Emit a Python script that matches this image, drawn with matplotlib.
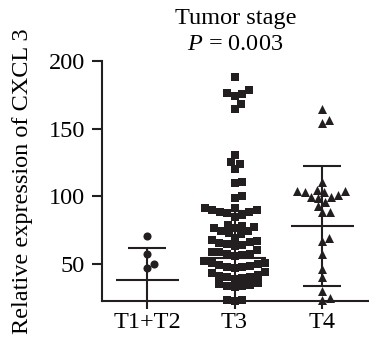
import numpy as np
import matplotlib
matplotlib.use("Agg")
import matplotlib.pyplot as plt

plt.rcParams['font.family'] = ['Liberation Serif', 'DejaVu Serif']
plt.rcParams['mathtext.fontset'] = 'custom'
plt.rcParams['mathtext.rm'] = 'Liberation Serif'
plt.rcParams['mathtext.it'] = 'Liberation Serif:italic'

# data
groups = ["T1+T2", "T3", "T4"]
vals_t12 = [70.5, 57.2, 46.9, 49.8]
vals_t3 = [188.4, 178.6, 176.6, 175.4, 174.4, 168, 164.5, 130.6, 125.2, 123.9, 120,
           110.9, 110.1, 100.3, 99,
           91.2, 91.2, 89.8, 89.8, 88.6, 88.6, 87.5, 86.3, 85,
           79, 78.2, 77.5, 76.4, 76.4, 74, 74, 72.8, 72.5,
           69, 68, 67, 66, 65.5, 64.6, 64, 63,
           60, 59, 58.5, 57.5, 57, 56.5, 56,
           52, 51, 50.5, 50, 49, 48.5, 48, 47.5, 47,
           44, 43, 42, 41, 40.5, 40, 39.5, 39,
           36, 35, 34.5, 34, 33.5, 33,
           23, 22.8, 23]
vals_t4 = [164.6, 156.4, 154.4, 110.9, 105, 104.2, 104.2, 103.5, 103, 101, 99.8, 99.3, 99,
           95.6, 93.1, 88.3, 88.3, 69.5, 66.6, 57.2, 46.2, 40, 30.1, 24.5, 23]
centers = [37.8, 54.7, 78.1]
upper = [62.0, 89.2, 122.7]
lower = [13.6, 20.2, 33.8]
markers = ['o', 's', '^']

fig = plt.figure(figsize=(3.69, 3.47), dpi=100)
ax = fig.add_axes([0.2756, 0.1326, 0.7244, 0.6914])
ax.set_xlim(0.482, 3.537)
ax.set_ylim(22.6, 200)

# pixels per data unit, used to spread points like a swarm
xs = 87.5
ys = 67.6 / 50
d = 7.8


def swarm(vals):
    placed = []
    out = {}
    for i in np.argsort(vals):
        y = vals[i] * ys
        cands = [0.0]
        for px, py in placed:
            dy = y - py
            if abs(dy) < d:
                dx = np.sqrt(d ** 2 - dy ** 2)
                cands += [px + dx, px - dx]
        ok = [c for c in cands
              if all((c - px) ** 2 + (y - py) ** 2 >= d ** 2 - 1e-6 for px, py in placed)]
        best = min(ok, key=abs)
        placed.append((best, y))
        out[i] = best / xs
    return [out[i] for i in range(len(vals))]


for k, vals in enumerate([vals_t12, vals_t3, vals_t4]):
    offs = swarm(vals)
    ax.scatter([k + 1 + o for o in offs], vals, marker=markers[k], s=[34, 30, 42][k],
               color='#231f20', linewidths=0, zorder=3, clip_on=False)

xpos = [1, 2, 3]
ax.errorbar(xpos, centers, yerr=[np.array(centers) - np.array(lower), np.array(upper) - np.array(centers)],
            fmt='none', ecolor='#231f20', elinewidth=1.5, capsize=14, capthick=1.5, zorder=4)
ax.hlines(centers, [x - 0.36 for x in xpos], [x + 0.36 for x in xpos], color='#231f20', lw=1.5, zorder=4)

for s in ['top', 'right']:
    ax.spines[s].set_visible(False)
for s in ['left', 'bottom']:
    ax.spines[s].set_linewidth(1.5)
    ax.spines[s].set_color('#231f20')

fs = 17.5
ax.set_yticks([50, 100, 150, 200])
ax.set_xticks(xpos)
ax.set_xticklabels(groups)
ax.tick_params(axis='y', length=7, width=1.5, color='#231f20', labelsize=fs, pad=5)
ax.tick_params(axis='x', length=6, width=1.5, color='#231f20', labelsize=fs, pad=2)
ax.set_ylabel("Relative expression of CXCL 3", fontsize=fs, labelpad=11)
ax.set_title("Tumor stage\n$P$ = 0.003", fontsize=fs, pad=8, linespacing=1.3)

fig.savefig("out.png", dpi=100)
